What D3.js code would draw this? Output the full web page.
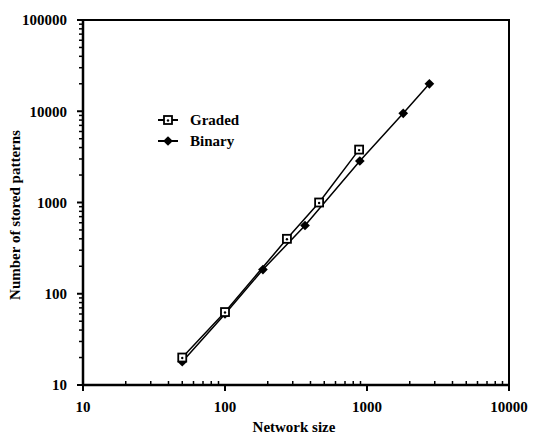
<!DOCTYPE html>
<html>
<head>
<meta charset="utf-8">
<script src="https://cdn.jsdelivr.net/npm/d3@7"></script>
<style>
  body { margin: 0; background: #fff; }
  text { font-family: "Liberation Serif", "DejaVu Serif", serif; font-weight: bold; fill: #000; }
</style>
</head>
<body>
<svg id="chart" width="533" height="437"></svg>
<script>
// data
const gradedSize   = [50, 100, 273, 460, 880];
const gradedStored = [20, 63, 400, 1000, 3800];
const binarySize   = [50, 100, 185, 366, 890, 1800, 2750];
const binaryStored = [18, 60, 184, 560, 2850, 9500, 20000];
const xTicks = [10, 100, 1000, 10000];
const yTicks = [10, 100, 1000, 10000, 100000];

const svg = d3.select("#chart");

// log scales
const x = d3.scaleLog().domain([10, 10000]).range([83, 509]);
const y = d3.scaleLog().domain([10, 100000]).range([385, 20]);

// minor ticks (2..9 of each decade)
const minorX = [], minorY = [];
for (let d = 10; d < 10000; d *= 10) for (let k = 2; k < 10; k++) minorX.push(d * k);
for (let d = 10; d < 100000; d *= 10) for (let k = 2; k < 10; k++) minorY.push(d * k);

// frame: top and right
svg.append("path")
    .attr("d", `M${x(10)},${y(100000)} H${x(10000)} V${y(10)}`)
    .attr("fill", "none").attr("stroke", "#000").attr("stroke-width", 2);

// x axis
const gx = svg.append("g").attr("transform", `translate(0,${y(10)})`);
gx.append("line").attr("x1", x(10) - 1).attr("x2", x(10000) + 1)
    .attr("stroke", "#000").attr("stroke-width", 2.5);
gx.selectAll(".maj").data(xTicks).join("line")
    .attr("x1", d => x(d)).attr("x2", d => x(d)).attr("y1", 0).attr("y2", 6)
    .attr("stroke", "#000").attr("stroke-width", 2);
gx.selectAll(".min").data(minorX).join("line")
    .attr("x1", d => x(d)).attr("x2", d => x(d)).attr("y1", 0).attr("y2", -4)
    .attr("stroke", "#000").attr("stroke-width", 1.5);
gx.selectAll("text").data(xTicks).join("text")
    .attr("x", d => x(d)).attr("y", 27)
    .attr("text-anchor", "middle").attr("font-size", 15)
    .text(d => d);

// y axis
const gy = svg.append("g").attr("transform", `translate(${x(10)},0)`);
gy.append("line").attr("y1", y(100000) - 1).attr("y2", y(10) + 1)
    .attr("stroke", "#000").attr("stroke-width", 2.5);
gy.selectAll(".maj").data(yTicks).join("line")
    .attr("y1", d => y(d)).attr("y2", d => y(d)).attr("x1", 0).attr("x2", -6)
    .attr("stroke", "#000").attr("stroke-width", 2);
gy.selectAll(".min").data(minorY).join("line")
    .attr("y1", d => y(d)).attr("y2", d => y(d)).attr("x1", 0).attr("x2", -4)
    .attr("stroke", "#000").attr("stroke-width", 1.5);
gy.selectAll("text").data(yTicks).join("text")
    .attr("x", -16).attr("y", d => y(d)).attr("dy", "0.35em")
    .attr("text-anchor", "end").attr("font-size", 15)
    .text(d => d);

// axis titles
svg.append("text")
    .attr("x", 294).attr("y", 432)
    .attr("text-anchor", "middle").attr("font-size", 15)
    .text("Network size");
svg.append("text")
    .attr("transform", "translate(20,215) rotate(-90)")
    .attr("text-anchor", "middle").attr("font-size", 15)
    .text("Number of stored patterns");

// series
const graded = gradedSize.map((s, i) => [s, gradedStored[i]]);
const binary = binarySize.map((s, i) => [s, binaryStored[i]]);
const line = d3.line().x(d => x(d[0])).y(d => y(d[1]));

svg.append("path").datum(binary).attr("d", line)
    .attr("fill", "none").attr("stroke", "#000").attr("stroke-width", 1.5);
svg.append("path").datum(graded).attr("d", line)
    .attr("fill", "none").attr("stroke", "#000").attr("stroke-width", 1.5);

const diamond = d3.symbol().type(d3.symbolDiamond2).size(60);

function drawSquare(g, cx, cy) {
    g.append("rect").attr("x", cx - 4).attr("y", cy - 4)
        .attr("width", 8).attr("height", 8)
        .attr("fill", "#fff").attr("stroke", "#000").attr("stroke-width", 1.8);
    g.append("circle").attr("cx", cx).attr("cy", cy + 0.5).attr("r", 1.2).attr("fill", "#000");
}

binary.forEach(d => {
    svg.append("path").attr("d", diamond)
        .attr("transform", `translate(${x(d[0])},${y(d[1])})`)
        .attr("fill", "#000");
});
const gm = svg.append("g");
graded.forEach(d => drawSquare(gm, x(d[0]), y(d[1])));

// legend
const lg = svg.append("g");
lg.append("line").attr("x1", 158).attr("x2", 178).attr("y1", 120).attr("y2", 120)
    .attr("stroke", "#000").attr("stroke-width", 2);
drawSquare(lg, 168, 120);
lg.append("text").attr("x", 190).attr("y", 120).attr("dy", "0.35em")
    .attr("font-size", 15).text("Graded");
lg.append("line").attr("x1", 158).attr("x2", 178).attr("y1", 141).attr("y2", 141)
    .attr("stroke", "#000").attr("stroke-width", 2);
lg.append("path").attr("d", diamond).attr("transform", "translate(168,141)").attr("fill", "#000");
lg.append("text").attr("x", 190).attr("y", 141).attr("dy", "0.35em")
    .attr("font-size", 15).text("Binary");
</script>
</body>
</html>
